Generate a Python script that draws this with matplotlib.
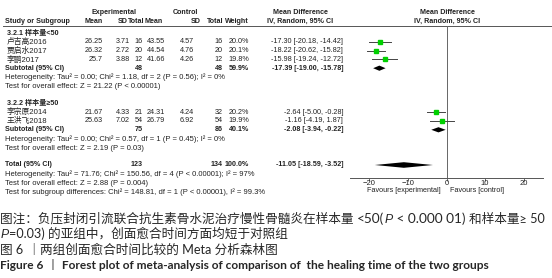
import matplotlib
matplotlib.use("Agg")
import matplotlib.pyplot as plt
from matplotlib.patches import Polygon
from matplotlib.transforms import offset_copy

plt.rcParams['font.family'] = ['Liberation Sans', 'Noto Sans CJK SC', 'DejaVu Sans']

# ---- 数据 ----
studies = ['卢吉高2016', '贾启水2017', '李鹏2017', '李宗原2014', '王洪飞2018']
study_group = [0, 0, 0, 1, 1]
exp_mean = [26.25, 26.32, 25.7, 21.67, 25.63]
exp_sd = [3.71, 2.72, 3.88, 4.33, 7.02]
exp_n = [16, 20, 12, 21, 54]
ctl_mean = [43.55, 44.54, 41.66, 24.31, 26.79]
ctl_sd = [4.57, 4.76, 4.26, 4.24, 6.92]
ctl_n = [16, 20, 12, 32, 54]
weight = [20.0, 20.1, 19.8, 20.2, 19.9]
md = [-17.30, -18.22, -15.98, -2.64, -1.16]
md_lo = [-20.18, -20.62, -19.24, -5.00, -4.19]
md_hi = [-14.42, -15.82, -12.72, -0.28, 1.87]

sub_labels = ['3.2.1 样本量<50', '3.2.2 样本量≥50']
sub_exp_n = [48, 75]
sub_ctl_n = [48, 86]
sub_weight = [59.9, 40.1]
sub_md = [-17.39, -2.08]
sub_lo = [-19.00, -3.94]
sub_hi = [-15.78, -0.22]
sub_het = ['Heterogeneity: Tau² = 0.00; Chi² = 1.18, df = 2 (P = 0.56); I² = 0%',
           'Heterogeneity: Tau² = 0.00; Chi² = 0.57, df = 1 (P = 0.45); I² = 0%']
sub_test = ['Test for overall effect: Z = 21.22 (P < 0.00001)',
            'Test for overall effect: Z = 2.19 (P = 0.03)']

tot_exp_n, tot_ctl_n, tot_weight = 123, 134, 100.0
tot_md, tot_lo, tot_hi = -11.05, -18.59, -3.52
tot_lines = ['Heterogeneity: Tau² = 71.76; Chi² = 150.56, df = 4 (P < 0.00001); I² = 97%',
             'Test for overall effect: Z = 2.88 (P = 0.004)',
             'Test for subgroup differences: Chi² = 148.81, df = 1 (P < 0.00001), I² = 99.3%']

xticks = [-20, -10, 0, 10, 20]

# ---- 画布: 用像素坐标排版 ----
W, H = 552, 278
fig = plt.figure(figsize=(W / 100, H / 100), dpi=100)
ax = fig.add_axes([0, 0, 1, 1])
ax.set_xlim(0, W)
ax.set_ylim(H, 0)
ax.axis('off')

# 森林图区域
X0, X1, YT, YB = 350, 543, 25.5, 177.5
fx = fig.add_axes([X0 / W, (H - YB) / H, (X1 - X0) / W, (YB - YT) / H])
fx.set_xlim(-25, 25)
fx.set_ylim(YB, YT)
fx.patch.set_alpha(0)
for s in ('top', 'left', 'right'):
    fx.spines[s].set_visible(False)
fx.spines['bottom'].set_color('#555555')
fx.spines['bottom'].set_linewidth(0.7)
fx.set_yticks([])
fx.set_xticks(xticks)
fx.tick_params(axis='x', length=1.8, width=0.6, color='#555555', pad=0,
               labelsize=5.5, labelcolor='#222222')
fx.axvline(0, color='#666666', lw=0.7)

TC = '#222222'
FS = 5.5     # 普通文字
FSN = 5.2    # 表格数字
FSB = 5.1    # 粗体表头/小计
col = dict(study=7, em=103, esd=130, en=143, cm=165, csd=194, cn=223, w=249, ci=343)


def t(x, y, s, ha='left', bold=False, fs=None):
    ax.text(x, y, s, ha=ha, va='center', color=TC,
            fontsize=fs or (FSB if bold else FSN),
            fontweight='bold' if bold else 'normal')


# 表头
t(114, 12.5, 'Experimental', ha='center', bold=True)
t(185, 12.5, 'Control', ha='center', bold=True)
t(300, 12.5, 'Mean Difference', ha='center', bold=True)
t(447, 12.5, 'Mean Difference', ha='center', bold=True)
hy = 21.5
t(col['study'] - 2, hy, 'Study or Subgroup', bold=True)
t(col['em'], hy, 'Mean', ha='right', bold=True)
t(128, hy, 'SD', ha='right', bold=True)
t(col['en'] + 1, hy, 'Total', ha='right', bold=True)
t(163, hy, 'Mean', ha='right', bold=True)
t(201, hy, 'SD', ha='right', bold=True)
t(col['cn'], hy, 'Total', ha='right', bold=True)
t(col['w'], hy, 'Weight', ha='right', bold=True)
t(300, hy, 'IV, Random, 95% CI', ha='center', bold=True)
t(447, hy, 'IV, Random, 95% CI', ha='center', bold=True)
ax.plot([3, W], [25.5, 25.5], color='#555555', lw=0.7)

PITCH, Y0 = 8.8, 33


def row_y(i):
    return Y0 + i * PITCH


def diamond(y, lo, mid, hi, h):
    fx.add_patch(Polygon([(lo, y), (mid, y - h), (hi, y), (mid, y + h)],
                         closed=True, color='black', lw=0))


r = 0
for g in range(2):
    t(col['study'], row_y(r), sub_labels[g], bold=True)
    r += 1
    for i in range(len(studies)):
        if study_group[i] != g:
            continue
        y = row_y(r)
        t(col['study'], y, studies[i], fs=5.6)
        t(col['em'], y, str(exp_mean[i]), ha='right')
        t(col['esd'], y, str(exp_sd[i]), ha='right')
        t(col['en'], y, str(exp_n[i]), ha='right')
        t(col['cm'], y, str(ctl_mean[i]), ha='right')
        t(col['csd'], y, str(ctl_sd[i]), ha='right')
        t(col['cn'], y, str(ctl_n[i]), ha='right')
        t(col['w'], y, f'{weight[i]:.1f}%', ha='right')
        t(col['ci'], y, f'{md[i]:.2f} [{md_lo[i]:.2f}, {md_hi[i]:.2f}]', ha='right')
        fx.plot([md_lo[i], md_hi[i]], [y, y], color='#444444', lw=0.7)
        fx.plot([md[i]], [y], marker='s', ms=3.0 * (weight[i] / 20) ** 0.5,
                color='#00d000', mec='#00d000', lw=0)
        r += 1
    y = row_y(r)
    t(col['study'] - 2, y, 'Subtotal (95% CI)', bold=True)
    t(col['en'], y, str(sub_exp_n[g]), ha='right', bold=True)
    t(col['cn'], y, str(sub_ctl_n[g]), ha='right', bold=True)
    t(col['w'], y, f'{sub_weight[g]:.1f}%', ha='right', bold=True)
    t(col['ci'], y, f'{sub_md[g]:.2f} [{sub_lo[g]:.2f}, {sub_hi[g]:.2f}]', ha='right', bold=True)
    diamond(y, sub_lo[g], sub_md[g], sub_hi[g], 2.6)
    r += 1
    t(col['study'] - 2, row_y(r) + 0.6, sub_het[g], fs=FS)
    r += 1
    t(col['study'] - 2, row_y(r) + 0.6, sub_test[g], fs=FS)
    r += 2

y = row_y(r)
t(col['study'] - 2, y, 'Total (95% CI)', bold=True)
t(col['en'], y, str(tot_exp_n), ha='right', bold=True)
t(col['cn'], y, str(tot_ctl_n), ha='right', bold=True)
t(col['w'], y, f'{tot_weight:.1f}%', ha='right', bold=True)
t(col['ci'], y, f'{tot_md:.2f} [{tot_lo:.2f}, {tot_hi:.2f}]', ha='right', bold=True)
diamond(y, tot_lo, tot_md, tot_hi, 2.8)
for k, s in enumerate(tot_lines):
    t(col['study'] - 2, row_y(r + 1 + k) + 0.6, s, fs=FS)

# Favours 标签
ax.text(441, 190, 'Favours [experimental]', ha='right', va='center', fontsize=5.2, color=TC)
ax.text(450, 190, 'Favours [control]', ha='left', va='center', fontsize=5.2, color=TC)

# ---- 图注: 分段文字逐段接排 ----
CC = '#262626'
cap_family = ['Lato', 'Noto Sans CJK SC', 'DejaVu Sans']
ital = dict(family=['Liberation Sans'], style='italic', fontsize=8.8)
renderer = fig.canvas.get_renderer()


def caption(y, parts, fs=9.1, **kw):
    x_px = 0.5
    for s, extra in parts:
        style = dict(fontsize=fs, color=CC, va='baseline', family=cap_family)
        style.update(kw)
        style.update(extra)
        tr = offset_copy(ax.transData, fig=fig, x=x_px * 72 / fig.dpi, y=0, units='points')
        txt = ax.text(0, y, s, ha='left', transform=tr, **style)
        bb = txt.get_window_extent(renderer)
        x_px += bb.width


caption(223, [('图注：负压封闭引流联合抗生素骨水泥治疗慢性骨髓炎在样本量 ', {}),
              ('<50(', {'fontsize': 9.8}), ('P', ital),
              (' < 0.000 01) ', {'fontsize': 9.8}), ('和样本量≥ 50', {})])
caption(238, [('P', ital), ('=0.03) 的亚组中，创面愈合时间方面均短于对照组', {})])
caption(254, [('图 6 ', {}), ('丨', {'color': '#888888'}), ('两组创面愈合时间比较的 Meta 分析森林图', {})])
caption(269, [('Figure 6 ', {}), ('丨', {'color': '#888888'}),
              (' Forest plot of meta-analysis of comparison of  the healing time of the two groups', {})],
        fs=8.6, fontweight='bold')

fig.savefig('out.png', dpi=100)
